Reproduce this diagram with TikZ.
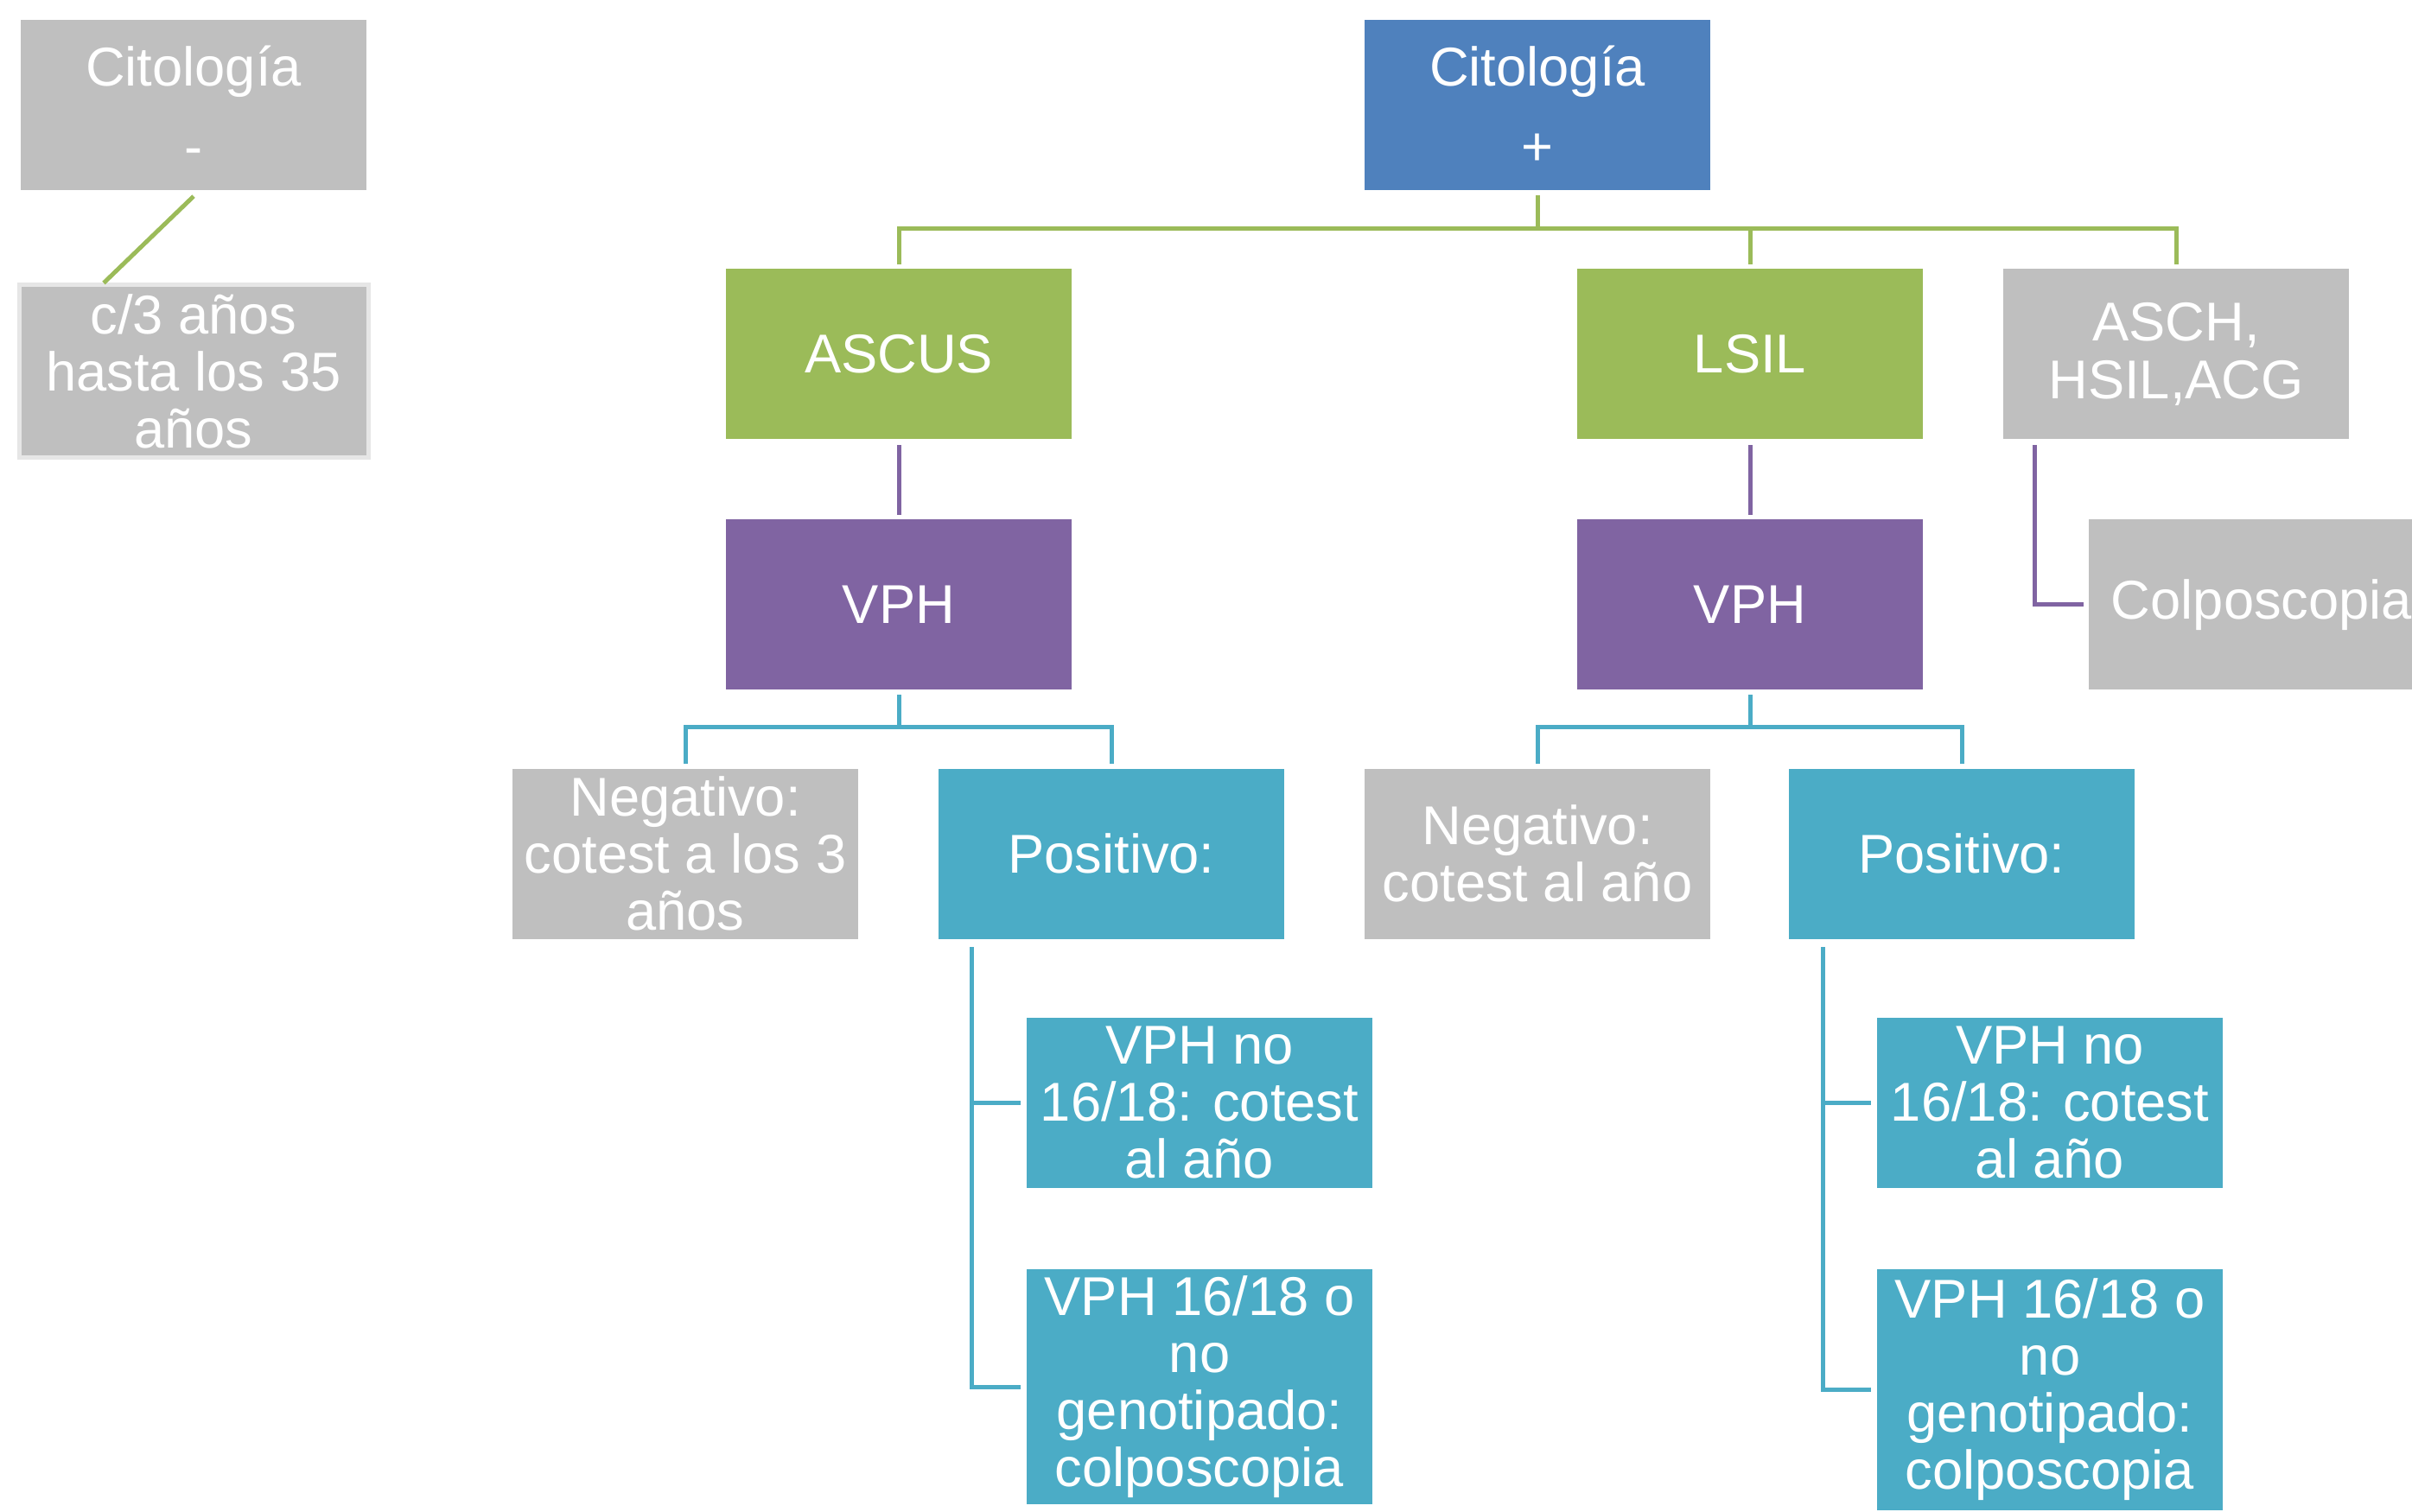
\documentclass[tikz,border=0pt]{standalone}
\usepackage{fontspec}
\setmainfont{Liberation Sans}
\usetikzlibrary{positioning,calc}
\definecolor{boxgray}{HTML}{BFBFBF}
\definecolor{boxblue}{HTML}{4F81BD}
\definecolor{boxgreen}{HTML}{9BBB59}
\definecolor{boxpurple}{HTML}{8064A2}
\definecolor{boxteal}{HTML}{4BACC6}
\definecolor{edgegray}{HTML}{E6E6E6}

\begin{document}
\begin{tikzpicture}[
    box/.style={rectangle, text=white, minimum width=4cm, minimum height=1.97cm, align=center, inner sep=0pt, font=\fontsize{18}{18.8}\selectfont},
    glink/.style={draw=boxgreen, line width=0.05cm},
    plink/.style={draw=boxpurple, line width=0.05cm},
    tlink/.style={draw=boxteal, line width=0.05cm}
]
    \useasboundingbox (0,0) rectangle (27.91,-17.50);
    \clip (0,0) rectangle (27.91,-17.50);

    % citologia negativa
    \node[box, fill=boxgray] (neg) at (2.24,-1.22) {Citología\\[0.26cm]-};
    \node[box, fill=boxgray, draw=edgegray, line width=0.05cm, minimum width=4.04cm, minimum height=2.0cm] (c3) at (2.24,-4.30) {c/3 años\\hasta los 35\\años};

    % citologia positiva
    \node[box, fill=boxblue] (pos) at (17.79,-1.22) {Citología\\[0.26cm]+};
    \node[box, fill=boxgreen] (ascus) at (10.40,-4.10) {ASCUS};
    \node[box, fill=boxgreen] (lsil) at (20.25,-4.10) {LSIL};
    \node[box, fill=boxgray] (asch) at (25.18,-4.10) {ASCH,\\HSIL,ACG};

    \node[box, fill=boxpurple] (vph1) at (10.40,-7.00) {VPH};
    \node[box, fill=boxpurple] (vph2) at (20.25,-7.00) {VPH};
    \node[box, fill=boxgray] (colpo) at (26.17,-7.00) {Colposcopia};

    % resultados VPH
    \node[box, fill=boxgray] (negA) at (7.93,-9.88) {Negativo:\\cotest a los 3\\años};
    \node[box, fill=boxteal] (posA) at (12.86,-9.88) {Positivo:};
    \node[box, fill=boxgray] (negB) at (17.79,-9.88) {Negativo:\\cotest al año};
    \node[box, fill=boxteal] (posB) at (22.70,-9.88) {Positivo:};

    \node[box, fill=boxteal] (noA) at (13.88,-12.76) {VPH no\\16/18: cotest\\al año};
    \node[box, fill=boxteal, minimum height=2.72cm] (siA) at (13.88,-16.05) {VPH 16/18 o\\no\\genotipado:\\colposcopia};
    \node[box, fill=boxteal] (noB) at (23.72,-12.76) {VPH no\\16/18: cotest\\al año};
    \node[box, fill=boxteal, minimum height=2.79cm] (siB) at (23.72,-16.08) {VPH 16/18 o\\no\\genotipado:\\colposcopia};

    % puntos de reparto
    \coordinate (busG) at (17.79,-2.65);
    \coordinate (busA) at (10.40,-8.42);
    \coordinate (busB) at (20.25,-8.42);

    % lineas verdes
    \draw[glink] ([yshift=-0.06cm]neg.south) -- ([xshift=-1.04cm]c3.north);
    \draw[glink] ([yshift=-0.05cm]pos.south) -- (busG) -| ([yshift=0.05cm]ascus.north);
    \draw[glink] (busG) -| ([yshift=0.05cm]lsil.north);
    \draw[glink] (busG) -| ([yshift=0.05cm]asch.north);

    % lineas moradas
    \draw[plink] ([yshift=-0.06cm]ascus.south) -- ([yshift=0.05cm]vph1.north);
    \draw[plink] ([yshift=-0.06cm]lsil.south) -- ([yshift=0.05cm]vph2.north);
    \draw[plink] ([xshift=0.37cm,yshift=-0.06cm]asch.south west) |- ([xshift=-0.05cm]colpo.west);

    % lineas azules
    \draw[tlink] ([yshift=-0.05cm]vph1.south) -- (busA) -| ([yshift=0.05cm]negA.north);
    \draw[tlink] (busA) -| ([yshift=0.05cm]posA.north);
    \draw[tlink] ([yshift=-0.05cm]vph2.south) -- (busB) -| ([yshift=0.05cm]negB.north);
    \draw[tlink] (busB) -| ([yshift=0.05cm]posB.north);

    \draw[tlink] ([xshift=0.39cm,yshift=-0.09cm]posA.south west) |- ([xshift=-0.06cm]noA.west);
    \draw[tlink] ([xshift=0.39cm,yshift=-0.09cm]posA.south west) |- ([xshift=-0.06cm]siA.west);
    \draw[tlink] ([xshift=0.40cm,yshift=-0.09cm]posB.south west) |- ([xshift=-0.06cm]noB.west);
    \draw[tlink] ([xshift=0.40cm,yshift=-0.09cm]posB.south west) |- ([xshift=-0.06cm]siB.west);
\end{tikzpicture}
\end{document}
